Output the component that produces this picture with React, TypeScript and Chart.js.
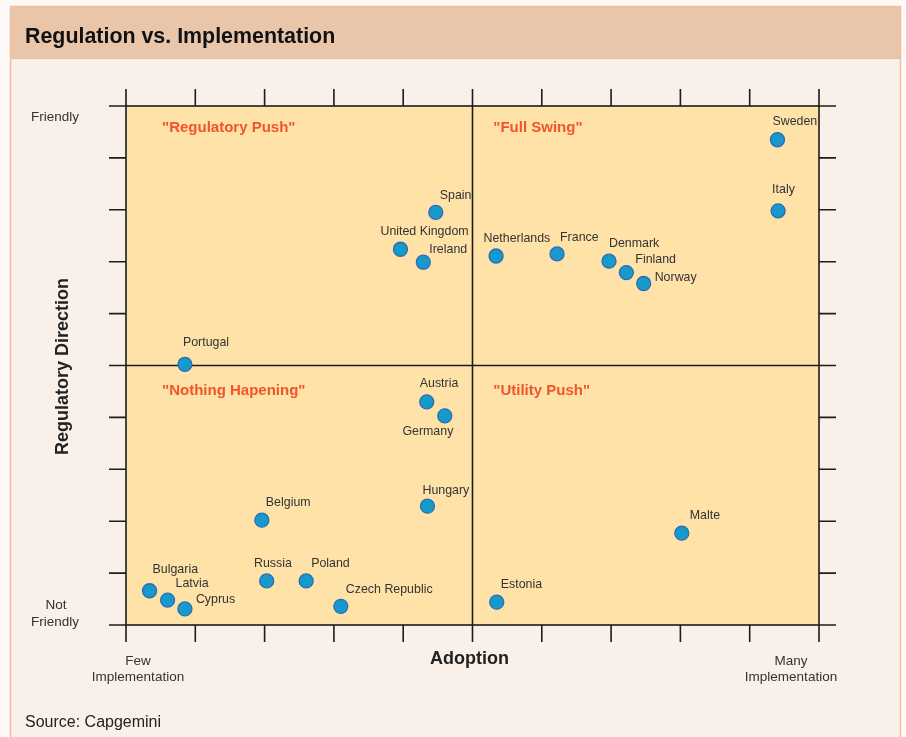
import React, { useEffect, useRef } from "react";
import { Chart, registerables } from "chart.js";

Chart.register(...registerables);

// ---------- data ----------
const countries = [
  "Sweden", "Italy", "Spain", "United Kingdom", "Ireland", "Netherlands", "France",
  "Denmark", "Finland", "Norway", "Portugal", "Austria", "Germany", "Hungary",
  "Belgium", "Malte", "Russia", "Poland", "Czech Republic", "Estonia", "Bulgaria",
  "Latvia", "Cyprus",
];
const adoption = [
  9.4, 9.41, 4.47, 3.96, 4.29, 5.34, 6.22, 6.97, 7.22, 7.47, 0.85, 4.34, 4.6, 4.35,
  1.96, 8.02, 2.03, 2.6, 3.1, 5.35, 0.34, 0.6, 0.85,
];
const regulation = [
  9.35, 7.98, 7.95, 7.24, 6.99, 7.11, 7.15, 7.01, 6.79, 6.58, 5.02, 4.3, 4.03, 2.29,
  2.02, 1.77, 0.85, 0.85, 0.36, 0.44, 0.66, 0.48, 0.31,
];
const quadrantNames = ['"Regulatory Push"', '"Full Swing"', '"Nothing Hapening"', '"Utility Push"'];
const axisTicks = [0, 1, 2, 3, 4, 5, 6, 7, 8, 9, 10];
const yTopLabel = "Friendly";
const yBottomLabel = ["Not", "Friendly"];
const xLeftLabel = ["Few", "Implementation"];
const xRightLabel = ["Many", "Implementation"];
const xTitle = "Adoption";
const yTitle = "Regulatory Direction";
const chartTitle = "Regulation vs. Implementation";
const sourceText = "Source: Capgemini";

// ---------- layout (label placement, not data) ----------
const labelOffsets: Record<string, [number, number]> = {
  Sweden: [-5, -18],
  Italy: [-6, -21],
  Spain: [4, -17],
  "United Kingdom": [-20, -18],
  Ireland: [6, -13],
  Netherlands: [-12.6, -17],
  France: [3, -16],
  Denmark: [0, -18],
  Finland: [9, -13],
  Norway: [11, -6],
  Portugal: [-2, -22],
  Austria: [-7, -18],
  Germany: [-42.4, 16],
  Hungary: [-5, -16],
  Belgium: [4, -18],
  Malte: [8, -18],
  Russia: [-12.7, -17],
  Poland: [5, -17],
  "Czech Republic": [5, -17],
  Estonia: [4, -18],
  Bulgaria: [3, -21],
  Latvia: [8, -17],
  Cyprus: [11, -9],
};
const quadrantAnchors: [number, number][] = [
  [0.52, 9.58],
  [5.3, 9.58],
  [0.52, 4.51],
  [5.3, 4.51],
];

const FONT = '"Liberation Sans", Arial, Helvetica, sans-serif';
const LINE = "#1c1c1c";

const decorPlugin = {
  id: "decor",
  beforeDraw(chart: any) {
    const ctx = chart.ctx;
    const W = chart.width;
    const H = chart.height;
    ctx.save();
    ctx.fillStyle = "#FCF9F7";
    ctx.fillRect(0, 0, W, H);
    // body panel
    ctx.fillStyle = "#F9F0EA";
    ctx.fillRect(10, 6, 891, H - 6);
    // title band
    ctx.fillStyle = "#E9C5AA";
    ctx.fillRect(10, 6, 891, 52);
    ctx.strokeStyle = "#EDBB98";
    ctx.lineWidth = 1;
    ctx.beginPath();
    ctx.moveTo(10, 58.5);
    ctx.lineTo(901, 58.5);
    ctx.stroke();
    ctx.strokeStyle = "#F2BE9C";
    ctx.lineWidth = 1.5;
    ctx.beginPath();
    ctx.moveTo(10.5, H);
    ctx.lineTo(10.5, 6.5);
    ctx.lineTo(900.5, 6.5);
    ctx.lineTo(900.5, H);
    ctx.stroke();
    // title
    ctx.fillStyle = "#111";
    ctx.font = `bold 21.4px ${FONT}`;
    ctx.textBaseline = "middle";
    ctx.textAlign = "left";
    ctx.fillText(chartTitle, 25, 37);
    // source
    ctx.font = `16px ${FONT}`;
    ctx.fillStyle = "#222";
    ctx.fillText(sourceText, 25, 722.5);
    ctx.restore();
  },
  beforeDatasetsDraw(chart: any) {
    const ctx = chart.ctx;
    const { left, right, top, bottom } = chart.chartArea;
    const xs = chart.scales.x;
    const ys = chart.scales.y;
    ctx.save();
    ctx.fillStyle = "#FFE2A8";
    ctx.fillRect(left, top, right - left, bottom - top);

    ctx.strokeStyle = LINE;
    ctx.lineWidth = 1.6;
    // mid lines
    const mx = xs.getPixelForValue(5);
    const my = ys.getPixelForValue(5);
    ctx.beginPath();
    ctx.moveTo(mx, top);
    ctx.lineTo(mx, bottom);
    ctx.moveTo(left, my);
    ctx.lineTo(right, my);
    ctx.stroke();
    // border
    ctx.strokeRect(left, top, right - left, bottom - top);
    // ticks
    const TL = 17;
    ctx.beginPath();
    axisTicks.forEach((t) => {
      const px = xs.getPixelForValue(t);
      ctx.moveTo(px, top);
      ctx.lineTo(px, top - TL);
      ctx.moveTo(px, bottom);
      ctx.lineTo(px, bottom + TL);
      const py = ys.getPixelForValue(t);
      ctx.moveTo(left, py);
      ctx.lineTo(left - TL, py);
      ctx.moveTo(right, py);
      ctx.lineTo(right + TL, py);
    });
    ctx.stroke();

    // quadrant names
    ctx.fillStyle = "#F2552C";
    ctx.font = `bold 15px ${FONT}`;
    ctx.textAlign = "left";
    ctx.textBaseline = "middle";
    quadrantNames.forEach((n, i) => {
      const [qx, qy] = quadrantAnchors[i];
      ctx.fillText(n, xs.getPixelForValue(qx), ys.getPixelForValue(qy));
    });
    ctx.restore();
  },
  afterDatasetsDraw(chart: any) {
    const ctx = chart.ctx;
    const xs = chart.scales.x;
    const ys = chart.scales.y;
    const { left, right, top, bottom } = chart.chartArea;
    ctx.save();
    ctx.fillStyle = "#333";
    ctx.font = `12.4px ${FONT}`;
    ctx.textAlign = "left";
    ctx.textBaseline = "middle";
    countries.forEach((c, i) => {
      const px = xs.getPixelForValue(adoption[i]);
      const py = ys.getPixelForValue(regulation[i]);
      const [dx, dy] = labelOffsets[c] || [5, -17];
      ctx.fillText(c, px + dx, py + dy);
    });

    // axis end labels
    ctx.font = `13.5px ${FONT}`;
    ctx.textAlign = "center";
    ctx.fillStyle = "#333";
    ctx.fillText(yTopLabel, 55, ys.getPixelForValue(10) + 11);
    ctx.fillText(yBottomLabel[0], 56, ys.getPixelForValue(0) - 20);
    ctx.fillText(yBottomLabel[1], 55, ys.getPixelForValue(0) - 3);
    ctx.fillText(xLeftLabel[0], xs.getPixelForValue(0) + 12, bottom + 36);
    ctx.fillText(xLeftLabel[1], xs.getPixelForValue(0) + 12, bottom + 52);
    ctx.fillText(xRightLabel[0], xs.getPixelForValue(10) - 28, bottom + 36);
    ctx.fillText(xRightLabel[1], xs.getPixelForValue(10) - 28, bottom + 52);

    // axis titles
    ctx.fillStyle = "#222";
    ctx.font = `bold 18px ${FONT}`;
    ctx.fillText(xTitle, (left + right) / 2 - 3, bottom + 34);
    ctx.translate(63, (top + bottom) / 2 + 1);
    ctx.rotate(-Math.PI / 2);
    ctx.fillText(yTitle, 0, 0);
    ctx.restore();
  },
};

export default function App() {
  const ref = useRef<HTMLCanvasElement>(null);
  useEffect(() => {
    document.body.style.margin = "0";
    if (!ref.current) return;
    const points = countries.map((c, i) => ({ x: adoption[i], y: regulation[i] }));
    const chart = new Chart(ref.current, {
      type: "scatter",
      data: {
        datasets: [
          {
            label: "Countries",
            data: points,
            pointRadius: 7,
            pointHoverRadius: 7,
            pointBackgroundColor: "#1799CC",
            pointBorderColor: "#2A6DB3",
            pointBorderWidth: 1.3,
          },
        ],
      },
      options: {
        animation: false,
        responsive: false,
        maintainAspectRatio: false,
        devicePixelRatio: 1,
        layout: { padding: { left: 126, right: 87, top: 106, bottom: 112 } },
        plugins: { legend: { display: false }, tooltip: { enabled: false }, title: { display: false } },
        scales: {
          x: { type: "linear", min: 0, max: 10, display: false },
          y: { type: "linear", min: 0, max: 10, display: false },
        },
      },
      plugins: [decorPlugin],
    });
    return () => chart.destroy();
  }, []);
  return (
    <div style={{ width: 906, height: 737 }}>
      <canvas ref={ref} width={906} height={737} style={{ display: "block", width: 906, height: 737 }} />
    </div>
  );
}
